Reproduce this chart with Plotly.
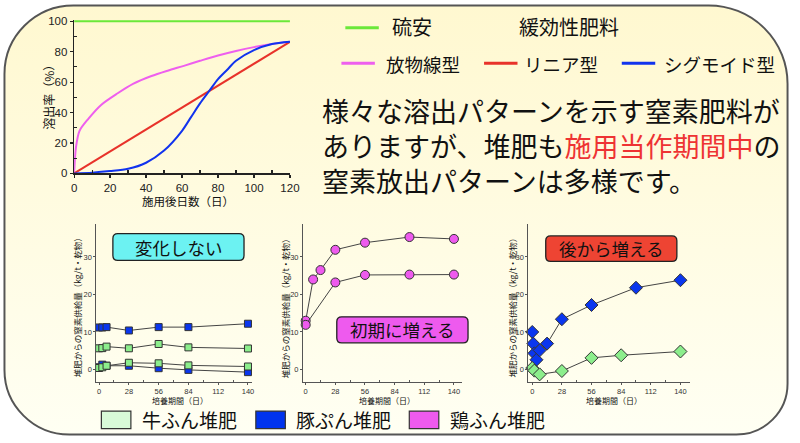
import base64
import plotly.graph_objects as go

W, H = 800, 443

# ---------------- data ----------------
# top chart: release curves (days after application vs release %)
ammonium_days = [0, 120]
ammonium_pct = [100, 100]
parab_days = [0, 1, 3, 8, 15, 24, 33, 43, 52, 61, 70, 80, 90, 100, 110, 120]
parab_pct = [0, 17, 28, 36, 45, 52.5, 59, 64, 67.5, 70.7, 74, 77.5, 80.5, 83, 85, 86.5]
linear_days = [0, 120]
linear_pct = [0, 86.5]
sigm_days = [0, 10, 20, 30, 40, 50, 60, 65, 70, 75, 80, 85, 90, 100, 110, 120]
sigm_pct = [0, 0.5, 1.5, 3, 7, 15, 28, 37, 46, 54, 62, 68, 74, 81, 85, 86.5]
top_x_ticks = [0, 20, 40, 60, 80, 100, 120]
top_x_minor = [10, 30, 50, 70, 90, 110]
top_y_ticks = [0, 20, 40, 60, 80, 100]
top_y_minor = [10, 30, 50, 70, 90]

# bottom charts (incubation days vs N supply kg/t dry matter)
a_days = [0, 3, 7, 28, 56, 84, 140]
a_pig_hi = [11.2, 11.2, 11.3, 10.4, 11.3, 11.3, 12.2]
a_cow_hi = [5.65, 5.7, 6.1, 5.65, 6.8, 5.9, 5.6]
a_pig_lo = [0.6, 1.3, 1.0, 1.0, 0.35, -0.1, -0.7]
a_cow_lo = [0.4, 0.6, 1.0, 1.8, 1.65, 1.1, 0.8]

b_hi_days = [0, 7, 14, 28, 56, 98, 140]
b_hen_hi = [13.0, 24.0, 26.5, 31.9, 33.8, 35.3, 34.8]
b_lo_days = [0, 28, 56, 98, 140]
b_hen_lo = [11.9, 23.2, 25.2, 25.3, 25.3]

c_pig_days = [0, 1, 2, 4, 7, 14, 28, 56, 98, 140]
c_pig = [10.0, 6.9, 4.3, 2.6, 5.1, 6.9, 13.4, 17.2, 21.8, 23.8]
c_cow_days = [0, 2, 7, 28, 56, 84, 140]
c_cow = [0.4, -0.3, -1.3, -0.4, 3.1, 3.8, 4.8]

bot_x_ticks = [0, 28, 56, 84, 112, 140]
bot_x_minor = [14, 42, 70, 98, 126]
bot_y_ticks = [0, 10, 20, 30]

# ---------------- styles ----------------
JP = "Noto Sans CJK JP, sans-serif"
NUM = "Liberation Sans, Arial, sans-serif"
GREEN_LINE = "#6BE83A"
MAG = "#EE5FEE"
RED = "#E8322A"
BLUE = "#1133EE"
COW = "#8CEE8C"
PIG = "#0A36EE"
HEN = "#EE5AEE"


def fx(px):
    return px / W


def fy(py):
    return 1 - py / H


fig = go.Figure()

# top chart traces
fig.add_trace(go.Scatter(x=ammonium_days, y=ammonium_pct, mode="lines",
                         line=dict(color=GREEN_LINE, width=2), xaxis="x", yaxis="y"))
fig.add_trace(go.Scatter(x=parab_days, y=parab_pct, mode="lines",
                         line=dict(color=MAG, width=2, shape="spline", smoothing=0.8),
                         xaxis="x", yaxis="y"))
fig.add_trace(go.Scatter(x=linear_days, y=linear_pct, mode="lines",
                         line=dict(color=RED, width=2), xaxis="x", yaxis="y"))
fig.add_trace(go.Scatter(x=sigm_days, y=sigm_pct, mode="lines",
                         line=dict(color=BLUE, width=2, shape="spline", smoothing=0.8),
                         xaxis="x", yaxis="y"))


def series(x, y, color, symbol, size, ax):
    fig.add_trace(go.Scatter(
        x=x, y=y, mode="lines+markers", cliponaxis=False,
        line=dict(color="#444444", width=1),
        marker=dict(color=color, symbol=symbol, size=size,
                    line=dict(color="#333333", width=1)),
        xaxis="x" + ax, yaxis="y" + ax))


series(a_days, a_pig_hi, PIG, "square", 7, "2")
series(a_days, a_cow_hi, COW, "square", 7, "2")
series(a_days, a_pig_lo, PIG, "square", 7, "2")
series(a_days, a_cow_lo, COW, "square", 7, "2")
series(b_hi_days, b_hen_hi, HEN, "circle", 9, "3")
series(b_lo_days, b_hen_lo, HEN, "circle", 9, "3")
series(c_pig_days, c_pig, PIG, "diamond", 10, "4")
series(c_cow_days, c_cow, COW, "diamond", 10, "4")

# ---------------- axes ----------------
top_axis_common = dict(showline=True, linecolor="#222222", linewidth=1.5,
                       showgrid=False, zeroline=False, ticks="outside",
                       ticklen=3, tickwidth=1.2, tickcolor="#222222",
                       tickfont=dict(family=NUM, size=11.5, color="#222222"))
fig.update_layout(
    xaxis=dict(domain=[fx(72.3), fx(291.7)], range=[0, 120], anchor="y",
               tickmode="array", tickvals=top_x_ticks,
               minor=dict(tickmode="array", tickvals=top_x_minor, ticks="inside",
                          ticklen=3, tickcolor="#222222"),
               **top_axis_common),
    yaxis=dict(domain=[fy(173.3), fy(16.1)], range=[0, 101], anchor="x",
               tickmode="array", tickvals=top_y_ticks,
               minor=dict(tickmode="array", tickvals=top_y_minor, ticks="inside",
                          ticklen=3, tickcolor="#222222"),
               **top_axis_common),
)

bot_common = dict(showline=True, linecolor="#555555", linewidth=1,
                  showgrid=False, zeroline=False, ticks="outside", ticklen=2,
                  tickwidth=1, tickcolor="#555555",
                  tickfont=dict(family=NUM, size=7.5, color="#333333"))
bot_dom_y = [fy(387), fy(225)]
for ax, (x0, x1), rng in [("2", (95, 253), [-2.5, 143.7]),
                           ("3", (305, 467), [-2.5, 148]),
                           ("4", (534, 698), [-3.7, 148.7])]:
    fig.update_layout(**{
        "xaxis" + ax: dict(domain=[fx(x0), fx(x1)], range=rng, anchor="y" + ax,
                           tickmode="array", tickvals=bot_x_ticks,
                           minor=dict(tickmode="array", tickvals=bot_x_minor,
                                      ticks="inside", ticklen=2, tickcolor="#555555"),
                           **bot_common),
        "yaxis" + ax: dict(domain=bot_dom_y, range=[-3.4, 38.8], anchor="x" + ax,
                           tickmode="array", tickvals=bot_y_ticks, **bot_common),
    })

# ---------------- background frame (decoration) ----------------
rTL, rTR, rBR, rBL = 70, 80, 52, 66
x0b, y0b, x1b, y1b = 1.5, 1.5, 797.5, 440.5
frame = (f"M {x0b + rTL},{y0b} L {x1b - rTR},{y0b} A {rTR},{rTR} 0 0 1 {x1b},{y0b + rTR} "
         f"L {x1b},{y1b - rBR} A {rBR},{rBR} 0 0 1 {x1b - rBR},{y1b} "
         f"L {x0b + rBL},{y1b} A {rBL},{rBL} 0 0 1 {x0b},{y1b - rBL} "
         f"L {x0b},{y0b + rTL} A {rTL},{rTL} 0 0 1 {x0b + rTL},{y0b} Z")
svg = (f'<svg xmlns="http://www.w3.org/2000/svg" width="{W}" height="{H}" viewBox="0 0 {W} {H}">'
       '<defs><linearGradient id="g" x1="0" y1="0" x2="0" y2="1">'
       '<stop offset="0" stop-color="#FFF8D0"/><stop offset="1" stop-color="#FFFFF3"/>'
       '</linearGradient></defs>'
       f'<path d="{frame}" fill="url(#g)" stroke="#555555" stroke-width="2"/></svg>')
bg_src = "data:image/svg+xml;base64," + base64.b64encode(svg.encode()).decode()
fig.add_layout_image(dict(source=bg_src, xref="paper", yref="paper", x=0, y=1,
                          sizex=1, sizey=1, xanchor="left", yanchor="top",
                          sizing="stretch", layer="below"))

shapes = []


def rrect(x0, y0, x1, y1, r, fill):
    def P(x, y):
        return f"{fx(x):.5f},{fy(y):.5f}"
    path = (f"M {P(x0 + r, y0)} L {P(x1 - r, y0)} Q {P(x1, y0)} {P(x1, y0 + r)} "
            f"L {P(x1, y1 - r)} Q {P(x1, y1)} {P(x1 - r, y1)} L {P(x0 + r, y1)} "
            f"Q {P(x0, y1)} {P(x0, y1 - r)} L {P(x0, y0 + r)} Q {P(x0, y0)} {P(x0 + r, y0)} Z")
    shapes.append(dict(type="path", path=path, xref="paper", yref="paper",
                       fillcolor=fill, line=dict(color="#222222", width=1.3)))


rrect(111.7, 235, 245, 262.3, 5, "#6CF2F2")
rrect(339.3, 320, 472.7, 346.7, 5, HEN)
rrect(551.7, 237.3, 685, 263.3, 5, "#EE4433")


def hline(x0, x1, y, color):
    shapes.append(dict(type="line", xref="paper", yref="paper",
                       x0=fx(x0), x1=fx(x1), y0=fy(y), y1=fy(y),
                       line=dict(color=color, width=3)))


hline(348, 382, 24.3, GREEN_LINE)
hline(344, 378, 60.5, MAG)
hline(489, 523, 60.5, RED)
hline(629, 663, 60.5, BLUE)


def box(x0, x1, fill):
    shapes.append(dict(type="rect", xref="paper", yref="paper",
                       x0=fx(x0), x1=fx(x1), y0=fy(434.5), y1=fy(416.5),
                       fillcolor=fill, line=dict(color="#333333", width=1.2)))


box(100, 130, "#D8FAD8")
box(257, 287, "#0033EE")
box(413, 443, "#EE5AEE")

annotations = []


def text(t, x, y, size, anchor="left", color="#111111", angle=0, family=JP):
    annotations.append(dict(text=t, x=fx(x), y=fy(y), xref="paper", yref="paper",
                            xanchor=anchor, yanchor="middle", showarrow=False,
                            textangle=angle, align="left",
                            font=dict(family=family, size=size, color=color)))


# top chart axis titles
text("溶出率（%）", 46.7, 92, 12, anchor="center", angle=-90)
text("施用後日数（日）", 188, 201.5, 11.5, anchor="center")

# top legend
text("硫安", 393, 23.5, 20)
text("緩効性肥料", 522, 23.5, 20)
text("放物線型", 387, 61, 18.5)
text("リニア型", 528, 61, 18.5)
text("シグモイド型", 670, 61, 18.5)

# message (one block, three lines)
text("様々な溶出パターンを示す窒素肥料が<br>"
     "ありますが、堆肥も<span style='color:#EE3333'>施用当作期間中</span>の<br>"
     "窒素放出パターンは多様です。", 322, 145, 27)

# box labels
text("変化しない", 178.4, 248.7, 17.5, anchor="center")
text("初期に増える", 406, 333.5, 17.5, anchor="center")
text("後から増える", 618.4, 250.3, 17.5, anchor="center")

# bottom axis titles
ytitle = "堆肥からの窒素供給量（kg/t・乾物）"
for xt, yt, xc in [(75.5, 308, 179.5), (287, 309, 390), (517, 309, 621)]:
    text(ytitle, xt, yt, 8.5, anchor="center", angle=-90)
    text("培養期間（日）", xc, 406, 8, anchor="center")

# bottom legend
text("牛ふん堆肥", 139, 425, 19)
text("豚ぷん堆肥", 296, 425, 19)
text("鶏ふん堆肥", 452, 425, 19)

fig.update_layout(width=W, height=H, autosize=False,
                  margin=dict(l=0, r=0, t=0, b=0),
                  paper_bgcolor="white", plot_bgcolor="rgba(0,0,0,0)",
                  showlegend=False, hovermode=False,
                  shapes=shapes, annotations=annotations)

fig.write_html("out.html", config={"displayModeBar": False, "staticPlot": True},
               post_script="document.body.style.margin='0';document.body.style.overflow='hidden';")
